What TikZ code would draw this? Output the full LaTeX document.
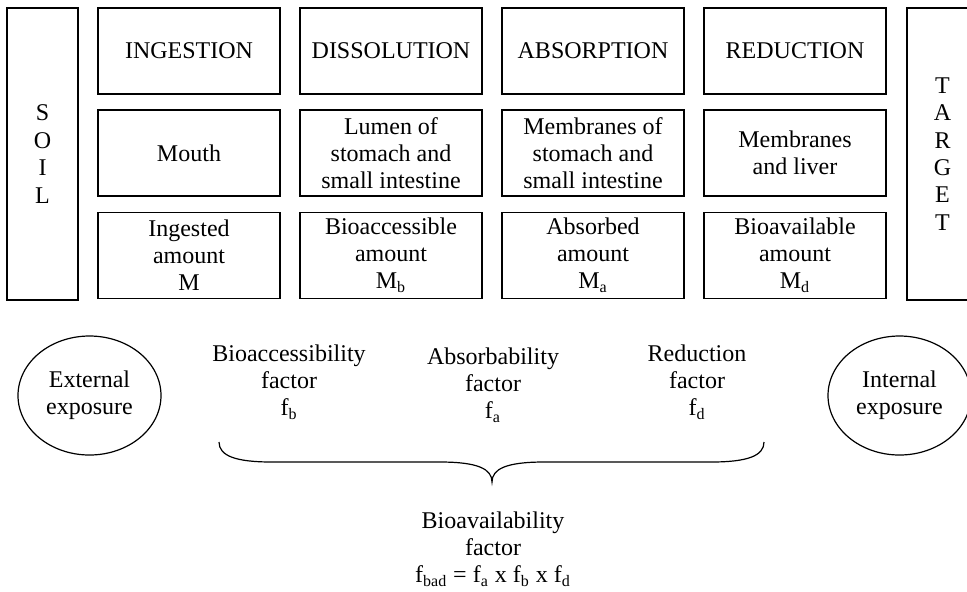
\documentclass[tikz,border=0pt]{standalone}
\usepackage{fontspec}
\setmainfont{Liberation Serif}
\usepackage{tikz}
\usetikzlibrary{shapes.geometric}

\tikzset{
  stagebox/.style={draw, line width=0.6pt, minimum width=91pt, minimum height=43pt, inner sep=0pt, align=center},
  sidebox/.style={draw, line width=0.6pt, minimum width=35.5pt, minimum height=146pt, inner sep=0pt, align=center},
  expo/.style={draw, ellipse, line width=0.6pt, minimum width=71.5pt, minimum height=59.5pt, inner sep=0pt, align=center},
  txt/.style={align=center, inner sep=0pt}
}

\begin{document}
\begin{tikzpicture}[x=0.5pt, y=-0.5pt, font=\fontsize{12}{13.5}\selectfont]
			\useasboundingbox (0,0) rectangle (967,591);
			% side columns
			\node[sidebox] (soil) at (42.5,154) {S\\[0.2pt]O\\[0.2pt]I\\[0.2pt]L};
			\node[sidebox] (target) at (942.5,154) {T\\[0.2pt]A\\[0.2pt]R\\[0.2pt]G\\[0.2pt]E\\[0.2pt]T};
			% stages
			\node[stagebox] (ingest) at (189,51) {INGESTION};
			\node[stagebox] (dissol) at (391,51) {DISSOLUTION};
			\node[stagebox] (absorp) at (593,51) {ABSORPTION};
			\node[stagebox] (reduct) at (795,51) {REDUCTION};
			% sites
			\node[stagebox] (mouth) at (189,153) {Mouth};
			\node[stagebox] (lumen) at (391,153) {Lumen of\\stomach and\\small intestine};
			\node[stagebox] (membr) at (593,153) {Membranes of\\stomach and\\small intestine};
			\node[stagebox] (liver) at (795,153) {Membranes\\and liver};
			% amounts
			\node[stagebox] (ingamt) at (189,255.5) {Ingested\\amount\\M};
			\node[stagebox] (bioacc) at (391,255.5) {Bioaccessible\\amount\\M\textsubscript{b}};
			\node[stagebox] (absamt) at (593,255.5) {Absorbed\\amount\\M\textsubscript{a}};
			\node[stagebox] (bioav) at (795,255.5) {Bioavailable\\amount\\M\textsubscript{d}};
			% exposures
			\node[expo] (extexp) at (89.5,395.5) {External\\exposure};
			\node[expo] (intexp) at (899.5,395.5) {Internal\\exposure};
			% factors
			\node[txt] (fb) at (289,382) {Bioaccessibility\\factor\\f\textsubscript{b}};
			\node[txt] (fa) at (493,385) {Absorbability\\factor\\f\textsubscript{a}};
			\node[txt] (fd) at (697,382) {Reduction\\factor\\f\textsubscript{d}};
			% brace
			\coordinate (braceL) at (219,442);
			\coordinate (braceR) at (764,442);
			\coordinate (bracetip) at (492,482);
			\draw[line width=0.6pt] (braceL) .. controls (219,456) and (236,462) .. (272,462)
				-- (440,462) .. controls (478,462) and (492,469) .. (bracetip)
				.. controls (492,469) and (506,462) .. (544,462)
				-- (711,462) .. controls (747,462) and (764,456) .. (braceR);
			\node[txt] (fbad) at (493,549) {Bioavailability\\factor\\f\textsubscript{bad} = f\textsubscript{a} x f\textsubscript{b} x f\textsubscript{d}};
		\end{tikzpicture}
\end{document}
